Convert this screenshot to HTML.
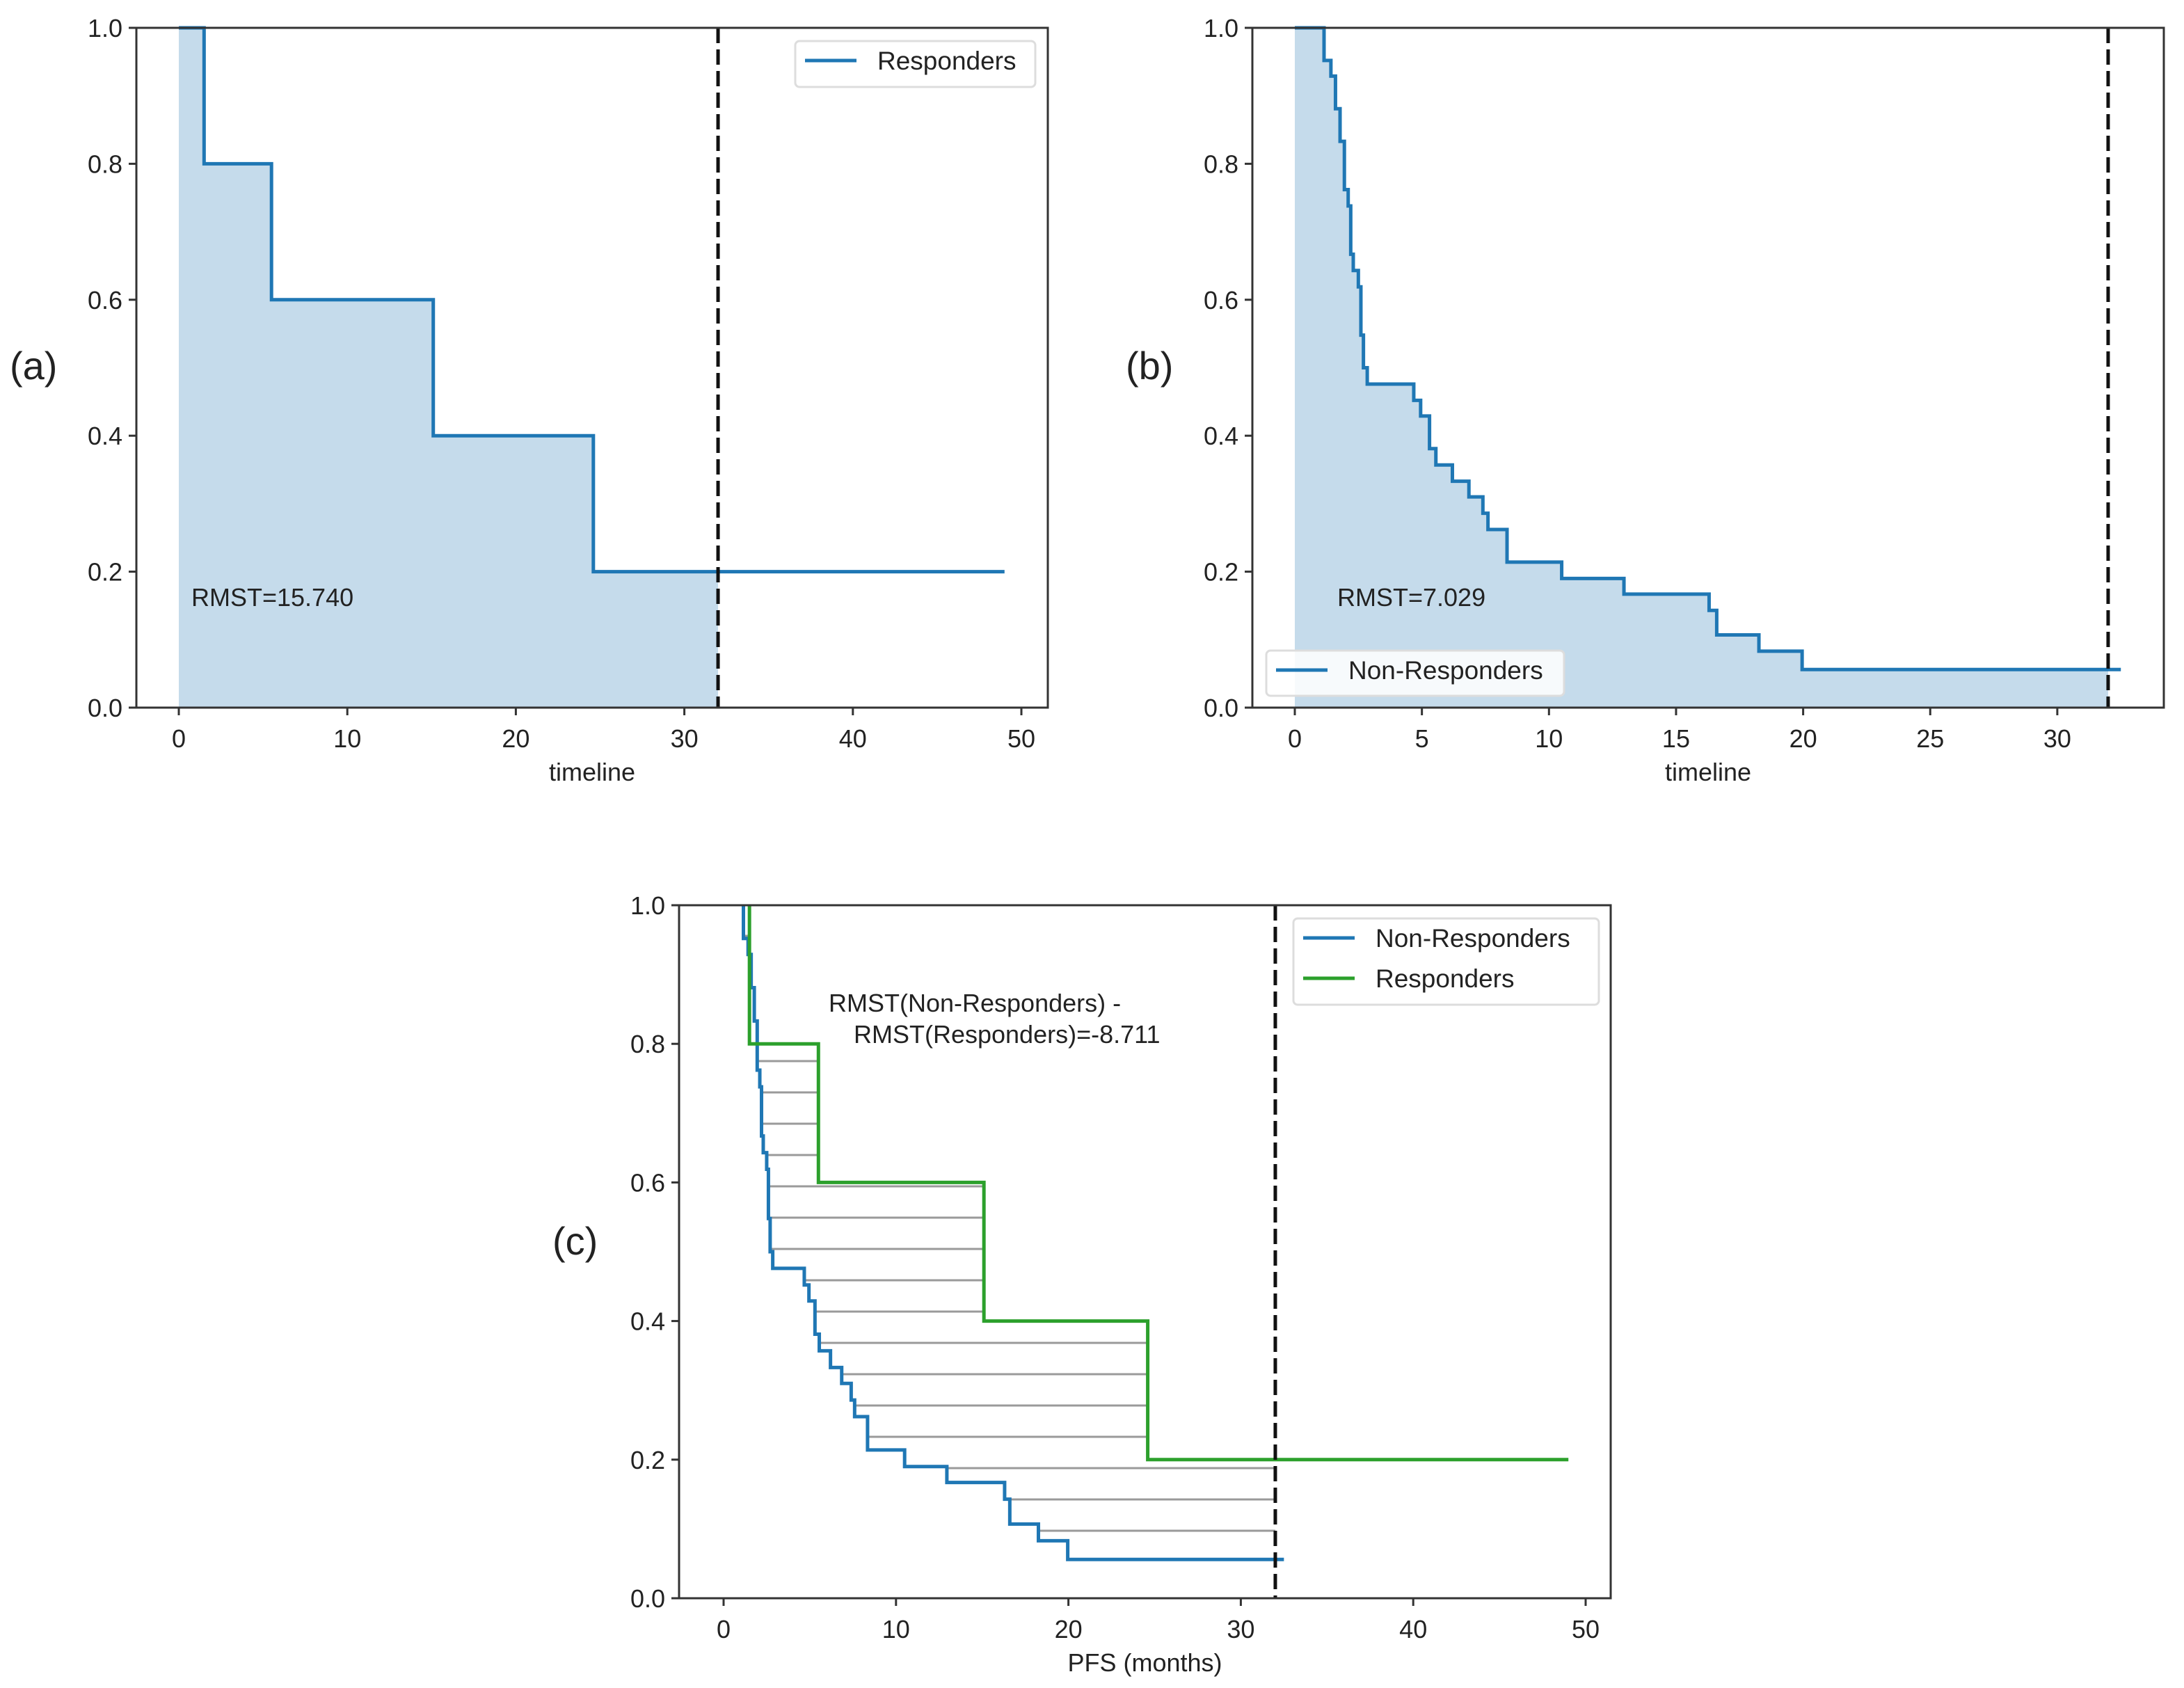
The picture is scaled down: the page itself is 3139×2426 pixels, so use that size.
<!DOCTYPE html>
<html><head><meta charset="utf-8"><style>
html,body{margin:0;padding:0;background:#fff}
svg{display:block}
text{font-family:"Liberation Sans","DejaVu Sans",sans-serif;fill:#222}
</style></head><body>
<svg id="fig" width="3139" height="2426" viewBox="0 0 3139 2426" xmlns="http://www.w3.org/2000/svg"></svg>
<script>
// ---- data ----
const respTimes = [0, 1.5, 5.5, 15.1, 24.6];
const respSurv = [1, 0.8, 0.6, 0.4, 0.2];
const respEnd = 49;
const nrTimes = [0,1.15,1.42,1.6,1.78,1.95,2.1,2.2,2.3,2.5,2.6,2.7,2.85,4.68,4.95,5.3,5.55,6.2,6.85,7.4,7.6,8.35,10.5,12.95,16.3,16.6,18.26,19.96];
const nrSurv = [1,0.952,0.929,0.881,0.833,0.762,0.738,0.667,0.643,0.619,0.548,0.5,0.476,0.452,0.429,0.381,0.357,0.333,0.31,0.286,0.262,0.214,0.19,0.167,0.143,0.107,0.083,0.056];
const nrEnd = 32.5;
const tau = 32;
const xTicksA = [0,10,20,30,40,50];
const xTicksB = [0,5,10,15,20,25,30];
const yTicks = [0,0.2,0.4,0.6,0.8,1.0];
const rmstLabels = ["RMST=15.740","RMST=7.029"];
const diffLabel = ["RMST(Non-Responders) -","RMST(Responders)=-8.711"];

const NS="http://www.w3.org/2000/svg";
const svg=document.getElementById('fig');
function el(tag,attrs,parent,txt){const e=document.createElementNS(NS,tag);for(const k in attrs)e.setAttribute(k,attrs[k]);if(txt!==undefined)e.textContent=txt;(parent||svg).appendChild(e);return e;}
const BLUE="#1f77b4",GREEN="#2ca02c",FILL="#c5dbeb";

function makeAxes(p){
  const g=el('g',{});
  
  
  p.x=v=>p.x0+(v-p.xmin)*p.xs;
  p.y=v=>p.bottom-(v)*(p.bottom-p.top);
  return Object.assign(p,{g:g});
}
function stepPath(ax,times,surv,end,clip,skipFirst){
  let d;
  if(skipFirst){d='M'+ax.x(times[1])+','+ax.y(surv[0])+'V'+ax.y(surv[1]);}
  else{d='M'+ax.x(times[0])+','+ax.y(surv[0]);}
  for(let i=skipFirst?2:1;i<times.length;i++){
    if(clip!==undefined&&times[i]>clip)break;
    d+='H'+ax.x(times[i])+'V'+ax.y(surv[i]);
  }
  d+='H'+ax.x(clip!==undefined?clip:end);
  return d;
}
function frame(ax,xticks,xlabel){
  const g=ax.g;
  xticks.forEach(t=>{
    const tk=el('line',{x1:ax.x(t),x2:ax.x(t),y1:ax.bottom,y2:ax.bottom+11,stroke:'#333','stroke-width':3},g);
    
    
    const tl=el('text',{x:ax.x(t),y:ax.bottom+57,'font-size':36,'text-anchor':'middle'},g,String(t));
    
    
  });
  yTicks.forEach(t=>{
    const tk=el('line',{x1:ax.left-11,x2:ax.left,y1:ax.y(t),y2:ax.y(t),stroke:'#333','stroke-width':3},g);
    
    
    const tl=el('text',{x:ax.left-20,y:ax.y(t)+13,'font-size':36,'text-anchor':'end'},g,t.toFixed(1));
    
    
  });
  const xl=el('text',{x:(ax.left+ax.right)/2,y:ax.bottom+105,'font-size':36,'text-anchor':'middle'},g,xlabel);
  
  
}
function box(ax){
  const r=el('rect',{x:ax.left,y:ax.top,width:ax.right-ax.left,height:ax.bottom-ax.top,fill:'none',stroke:'#333','stroke-width':3},ax.g);
  
  
}
function dashed(ax){
  const l=el('line',{x1:ax.x(tau),x2:ax.x(tau),y1:ax.top,y2:ax.bottom,stroke:'#111','stroke-width':5,'stroke-dasharray':'22 9'},ax.g);
  
  
}
function fillArea(ax,times,surv){
  const d=stepPath(ax,times,surv,tau,tau)+'V'+ax.y(0)+'H'+ax.x(0)+'Z';
  const p=el('path',{d:d,fill:FILL,stroke:'none'},ax.g);
  
  
}
function curve(ax,times,surv,end,color,name,skipFirst){
  const p=el('path',{d:stepPath(ax,times,surv,end,undefined,skipFirst),fill:'none',stroke:color,'stroke-width':5},ax.g);
  
  
}
function legend(ax,bx,by,bw,bh,items){
  const g=el('g',{},ax.g);
  
  
  el('rect',{x:bx,y:by,width:bw,height:bh,rx:6,fill:'#fff','fill-opacity':0.85,stroke:'#ddd','stroke-width':3},g);
  items.forEach((it,i)=>{
    const yy=by+28+i*58;
    el('line',{x1:bx+14,x2:bx+88,y1:yy,y2:yy,stroke:it.c,'stroke-width':5},g);
    const t=el('text',{x:bx+118,y:yy+13,'font-size':37},g,it.t);
    
    
  });
}
function panelLabel(txt,x,y){
  const t=el('text',{x:x,y:y,'font-size':56},svg,txt);
  
  
}

// Panel (a)
const A=makeAxes({name:'panel-a-responders',left:196,right:1506,top:40,bottom:1017,x0:257,xmin:0,xs:24.22});
fillArea(A,respTimes,respSurv);
curve(A,respTimes,respSurv,respEnd,BLUE,'responders-curve');
dashed(A);box(A);frame(A,xTicksA,'timeline');
legend(A,1143,59,345,66,[{c:BLUE,t:'Responders'}]);
const ra=el('text',{x:275,y:871,'font-size':36},A.g,rmstLabels[0]);


panelLabel('(a)',14,545);

// Panel (b)
const B=makeAxes({name:'panel-b-non-responders',left:1800,right:3110,top:40,bottom:1017,x0:1861,xmin:0,xs:36.53});
fillArea(B,nrTimes,nrSurv);
curve(B,nrTimes,nrSurv,nrEnd,BLUE,'non-responders-curve');
dashed(B);box(B);frame(B,xTicksB,'timeline');
legend(B,1820,935,428,65,[{c:BLUE,t:'Non-Responders'}]);
const rb=el('text',{x:1922,y:871,'font-size':36},B.g,rmstLabels[1]);


panelLabel('(b)',1618,545);

// Panel (c)
const C=makeAxes({name:'panel-c-comparison',left:976,right:2315,top:1301,bottom:2297,x0:1040,xmin:0,xs:24.78});
function dropTime(times,surv,v){for(let i=0;i<times.length;i++){if(surv[i]<v)return times[i];}return Infinity;}
for(let py=1525-45*6;py<C.bottom;py+=45){
  const v=(C.bottom-py)/(C.bottom-C.top);
  const t0=dropTime(nrTimes,nrSurv,v);
  const t1=Math.min(dropTime(respTimes,respSurv,v),tau);
  if(t1>t0+0.05){
    const h=el('line',{x1:C.x(t0),x2:C.x(t1),y1:py,y2:py,stroke:'#9a9a9a','stroke-width':3},C.g);
    
    
  }
}
curve(C,nrTimes,nrSurv,nrEnd,BLUE,'non-responders-curve',true);
curve(C,respTimes,respSurv,respEnd,GREEN,'responders-curve',true);
dashed(C);box(C);frame(C,xTicksA,'PFS (months)');
legend(C,1859,1320,439,124,[{c:BLUE,t:'Non-Responders'},{c:GREEN,t:'Responders'}]);
const d1=el('text',{x:1191,y:1454,'font-size':36},C.g,diffLabel[0]);


const d2=el('text',{x:1227,y:1499,'font-size':36},C.g,diffLabel[1]);


panelLabel('(c)',794,1803);
</script>
</body></html>
